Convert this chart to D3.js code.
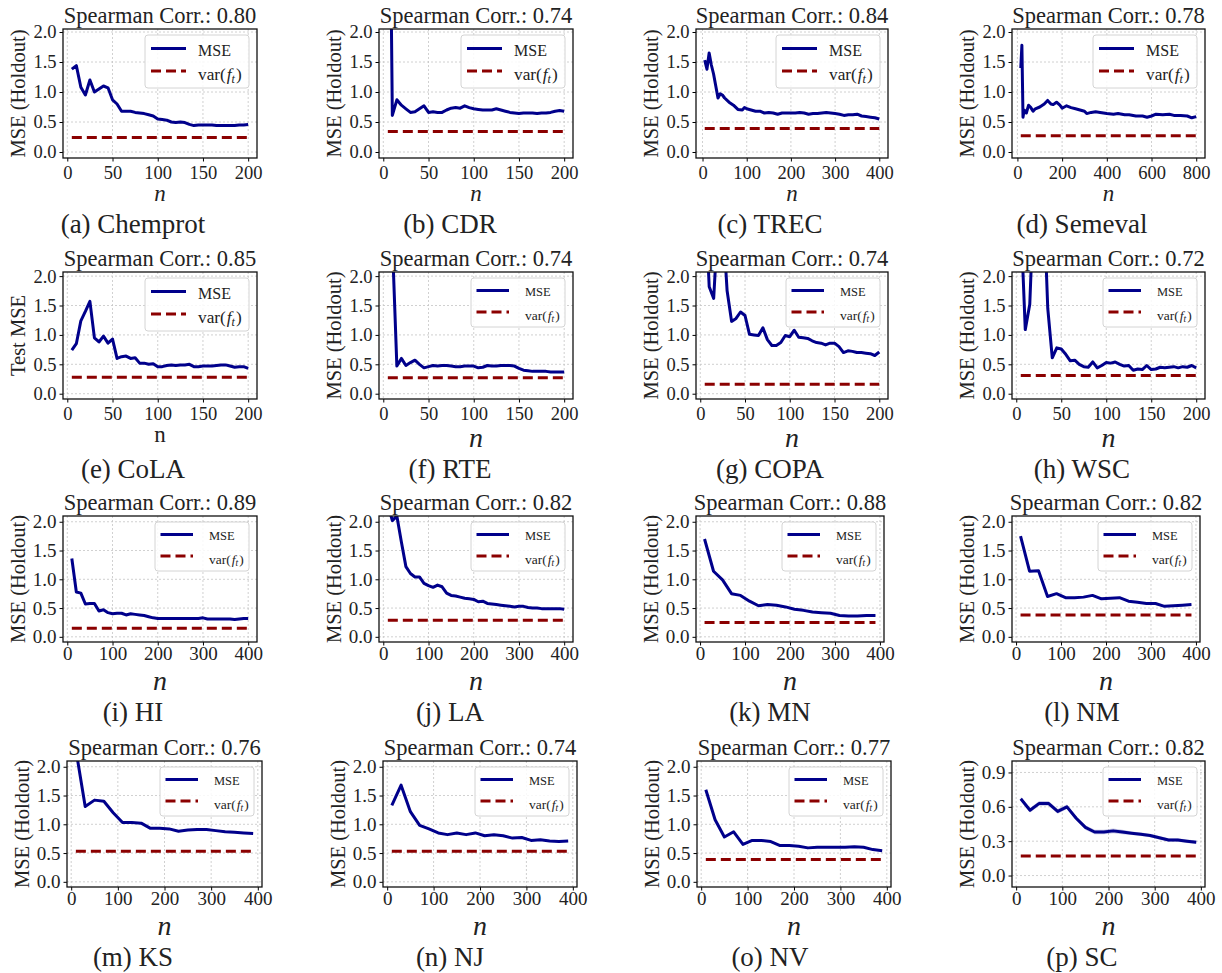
<!DOCTYPE html>
<html>
<head>
<meta charset="utf-8">
<script src="https://cdn.jsdelivr.net/npm/d3@7"></script>
<style>
  body { margin: 0; background: #fff; }
  svg { display: block; font-family: "Liberation Serif", "Times New Roman", serif; }
</style>
</head>
<body>
<script>
// ---- data ----
const datasets = ['Chemprot', 'CDR', 'TREC', 'Semeval', 'CoLA', 'RTE', 'COPA', 'WSC',
  'HI', 'LA', 'MN', 'NM', 'KS', 'NJ', 'NV', 'SC']
const letters = ['a', 'b', 'c', 'd', 'e', 'f', 'g', 'h', 'i', 'j', 'k', 'l', 'm', 'n', 'o', 'p']
const spearman = ['0.80', '0.74', '0.84', '0.78', '0.85', '0.74', '0.74', '0.72',
  '0.89', '0.82', '0.88', '0.82', '0.76', '0.74', '0.77', '0.82']
const varF = [0.24, 0.34, 0.39, 0.27, 0.28, 0.27, 0.16, 0.31,
  0.15, 0.29, 0.25, 0.38, 0.53, 0.53, 0.39, 0.17]

// sample sizes
const n5to200 = [5, 10, 15, 20, 25, 30, 35, 40, 45, 50, 55, 60, 65, 70, 75, 80, 85, 90, 95, 100,
  105, 110, 115, 120, 125, 130, 135, 140, 145, 150, 155, 160, 165, 170, 175, 180, 185, 190, 195, 200]
const n10to400 = [10, 20, 30, 40, 50, 60, 70, 80, 90, 100, 110, 120, 130, 140, 150, 160, 170, 180, 190, 200,
  210, 220, 230, 240, 250, 260, 270, 280, 290, 300, 310, 320, 330, 340, 350, 360, 370, 380, 390, 400]
const n10to390 = [10, 30, 50, 70, 90, 110, 130, 150, 170, 190, 210, 230, 250, 270, 290, 310, 330, 350, 370, 390]
const trecN = [5, 10, 15, 20, 25, 30, 35, 40, 45, 50, 60, 70, 80, 90, 95, 100, 110, 120, 130, 140,
  150, 160, 170, 180, 190, 200, 210, 220, 230, 240, 250, 260, 270, 280, 290, 300, 310, 320, 330, 340,
  350, 360, 370, 380, 390, 400]
const semevalN = [15, 20, 25, 30, 40, 50, 60, 70, 80, 100, 120, 135, 150, 160, 175, 190, 200, 220, 240, 260,
  280, 300, 310, 330, 350, 370, 400, 430, 450, 480, 500, 530, 560, 580, 600, 620, 650, 680, 700, 730,
  760, 780, 800]

// holdout MSE curves
const chemprotMse = [1.38, 1.44, 1.08, 0.95, 1.2, 1.0, 1.05, 1.1, 1.07, 0.87, 0.8, 0.68, 0.68, 0.68, 0.66, 0.65, 0.64, 0.62, 0.6, 0.55,
  0.54, 0.53, 0.5, 0.49, 0.5, 0.49, 0.46, 0.44, 0.45, 0.45, 0.45, 0.45, 0.44, 0.44, 0.44, 0.44, 0.44, 0.45, 0.45, 0.46]
const cdrMse = [8.0, 0.61, 0.87, 0.78, 0.72, 0.66, 0.67, 0.72, 0.77, 0.66, 0.67, 0.66, 0.66, 0.7, 0.73, 0.74, 0.73, 0.77, 0.74, 0.72,
  0.71, 0.7, 0.7, 0.7, 0.72, 0.7, 0.68, 0.66, 0.65, 0.64, 0.65, 0.65, 0.65, 0.64, 0.65, 0.65, 0.66, 0.68, 0.69, 0.68]
const trecMse = [1.53, 1.38, 1.65, 1.45, 1.3, 1.1, 0.9, 0.97, 0.95, 0.9, 0.83, 0.78, 0.71, 0.7, 0.74, 0.72, 0.7, 0.68, 0.68, 0.65,
  0.66, 0.65, 0.63, 0.65, 0.65, 0.65, 0.65, 0.66, 0.65, 0.63, 0.64, 0.64, 0.65, 0.66, 0.65, 0.64, 0.63, 0.61, 0.62, 0.62,
  0.63, 0.6, 0.59, 0.58, 0.57, 0.55]
const semevalMse = [1.4, 1.78, 0.58, 0.7, 0.65, 0.78, 0.74, 0.68, 0.72, 0.75, 0.8, 0.86, 0.8, 0.79, 0.83, 0.78, 0.73, 0.77, 0.74, 0.72,
  0.7, 0.68, 0.64, 0.66, 0.67, 0.66, 0.64, 0.63, 0.64, 0.62, 0.62, 0.6, 0.6, 0.58, 0.6, 0.63, 0.62, 0.63, 0.61, 0.61,
  0.6, 0.57, 0.59]
const colaMse = [0.74, 0.85, 1.24, 1.4, 1.57, 0.95, 0.88, 0.98, 0.86, 0.93, 0.6, 0.63, 0.64, 0.6, 0.61, 0.52, 0.52, 0.5, 0.51, 0.46,
  0.46, 0.48, 0.49, 0.48, 0.49, 0.49, 0.5, 0.46, 0.46, 0.47, 0.47, 0.47, 0.48, 0.49, 0.49, 0.47, 0.45, 0.46, 0.46, 0.43]
const rteMse = [3.0, 2.6, 0.47, 0.6, 0.48, 0.53, 0.57, 0.5, 0.44, 0.46, 0.48, 0.47, 0.48, 0.48, 0.47, 0.46, 0.46, 0.47, 0.47, 0.47,
  0.44, 0.45, 0.48, 0.47, 0.47, 0.48, 0.48, 0.48, 0.47, 0.43, 0.4, 0.39, 0.38, 0.38, 0.38, 0.38, 0.37, 0.37, 0.37, 0.37]
const copaMse = [3.5, 1.82, 1.62, 3.0, 3.0, 1.75, 1.23, 1.28, 1.39, 1.33, 1.01, 1.0, 0.99, 1.12, 0.92, 0.82, 0.82, 0.87, 0.99, 0.97,
  1.08, 0.96, 0.95, 0.94, 0.9, 0.87, 0.86, 0.83, 0.86, 0.86, 0.8, 0.7, 0.73, 0.72, 0.7, 0.7, 0.69, 0.68, 0.65, 0.71]
const wscMse = [3.0, 1.09, 1.52, 3.5, 3.5, 3.5, 1.45, 0.61, 0.78, 0.76, 0.67, 0.56, 0.57, 0.5, 0.46, 0.45, 0.54, 0.44, 0.48, 0.53,
  0.52, 0.54, 0.5, 0.47, 0.48, 0.4, 0.42, 0.41, 0.48, 0.41, 0.42, 0.45, 0.44, 0.45, 0.46, 0.44, 0.46, 0.45, 0.48, 0.44]
const hiMse = [1.36, 0.78, 0.76, 0.57, 0.58, 0.58, 0.45, 0.47, 0.42, 0.4, 0.41, 0.41, 0.38, 0.4, 0.39, 0.38, 0.37, 0.35, 0.33, 0.32,
  0.32, 0.32, 0.32, 0.32, 0.32, 0.32, 0.32, 0.32, 0.32, 0.33, 0.31, 0.31, 0.31, 0.31, 0.31, 0.31, 0.3, 0.31, 0.32, 0.32]
const laMse = [2.3, 2.02, 2.1, 1.65, 1.22, 1.1, 1.04, 1.04, 0.93, 0.89, 0.86, 0.9, 0.87, 0.76, 0.72, 0.71, 0.69, 0.67, 0.66, 0.65,
  0.61, 0.62, 0.58, 0.57, 0.56, 0.55, 0.54, 0.53, 0.52, 0.53, 0.53, 0.51, 0.5, 0.5, 0.49, 0.49, 0.49, 0.49, 0.49, 0.48]
const mnMse = [1.7, 1.14, 0.99, 0.75, 0.72, 0.62, 0.54, 0.56, 0.55, 0.52, 0.48, 0.46, 0.43, 0.42, 0.41, 0.37, 0.36, 0.36, 0.37, 0.37]
const nmMse = [1.75, 1.14, 1.15, 0.7, 0.75, 0.68, 0.68, 0.69, 0.72, 0.66, 0.67, 0.68, 0.62, 0.6, 0.58, 0.58, 0.53, 0.54, 0.55, 0.56]
const ksMse = [2.3, 1.31, 1.42, 1.4, 1.2, 1.03, 1.03, 1.02, 0.93, 0.93, 0.92, 0.88, 0.9, 0.91, 0.91, 0.89, 0.87, 0.86, 0.85, 0.84]
const njMse = [1.33, 1.68, 1.22, 0.98, 0.92, 0.85, 0.82, 0.85, 0.82, 0.85, 0.8, 0.82, 0.8, 0.76, 0.77, 0.72, 0.73, 0.71, 0.7, 0.71]
const nvMse = [1.6, 1.08, 0.78, 0.87, 0.65, 0.72, 0.72, 0.7, 0.63, 0.63, 0.62, 0.59, 0.6, 0.6, 0.6, 0.6, 0.61, 0.6, 0.56, 0.54]
const scMse = [0.67, 0.57, 0.63, 0.63, 0.56, 0.6, 0.5, 0.42, 0.38, 0.38, 0.39, 0.38, 0.37, 0.36, 0.35, 0.33, 0.31, 0.31, 0.3, 0.29]
const scStd = [0.015, 0.02, 0.02, 0.02, 0.02, 0.02, 0.02, 0.02, 0.02, 0.02, 0.02, 0.02, 0.015, 0.015, 0.015, 0.015, 0.015, 0.015, 0.015, 0.015]

// ticks
const ticks200 = [0, 50, 100, 150, 200]
const ticks400 = [0, 100, 200, 300, 400]
const ticks800 = [0, 200, 400, 600, 800]
const ticksMse = [0, 0.5, 1, 1.5, 2]
const ticksSc = [0, 0.3, 0.6, 0.9]

const sampleSizes = [n5to200, n5to200, trecN, semevalN, n5to200, n5to200, n5to200, n5to200,
  n10to400, n10to400, n10to390, n10to390, n10to390, n10to390, n10to390, n10to390]
const mseCurves = [chemprotMse, cdrMse, trecMse, semevalMse, colaMse, rteMse, copaMse, wscMse,
  hiMse, laMse, mnMse, nmMse, ksMse, njMse, nvMse, scMse]
const xTickSets = [ticks200, ticks200, ticks400, ticks800, ticks200, ticks200, ticks200, ticks200,
  ticks400, ticks400, ticks400, ticks400, ticks400, ticks400, ticks400, ticks400]

// ---- layout ----
const width = 1222
const height = 973
const colX = [[63, 257], [379, 573], [696, 888], [1012, 1205]]
const rowY = [[29, 158], [272, 399], [516, 642], [761, 887]]
const rowYDomain = [[-0.1, 2.05], [-0.09, 2.07], [-0.09, 2.1], [-0.09, 2.1]]
const captionX = [133, 450, 770, 1082]
// small per-panel nudges of the axes box
const boxFix = { k: [696, 884], l: [1012, 1200], m: [67, 262], n: [383, 577], o: [697, 891] }

const navy = '#00008b'
const darkred = '#8b0000'
const fontStack = '"Liberation Serif", "Times New Roman", serif'

const svg = d3.select('body').append('svg')
  .attr('width', width)
  .attr('height', height)
  .attr('viewBox', [0, 0, width, height])

svg.append('rect').attr('width', width).attr('height', height).attr('fill', '#fff')

datasets.forEach((name, i) => {
  const row = Math.floor(i / 4)
  const col = i % 4
  const id = letters[i]
  const [left, right] = boxFix[id] || colX[col]
  const [top, bottom] = rowY[row]
  const n = sampleSizes[i]
  const mse = mseCurves[i]
  const isSC = name === 'SC'
  const bigLegend = i < 5

  const ext = d3.extent(n)
  const padX = (ext[1] - ext[0]) * 0.05
  const x = d3.scaleLinear().domain([ext[0] - padX, ext[1] + padX]).range([left, right])
  const y = d3.scaleLinear().domain(isSC ? [-0.1, 1.0] : rowYDomain[row]).range([bottom, top])
  const yTicks = isSC ? ticksSc : ticksMse
  const tickFont = row < 2 ? 18.5 : 19

  const g = svg.append('g').attr('class', `panel-${id}`)

  // grid
  const grid = g.append('g')
    .attr('stroke', '#c4c4c4')
    .attr('stroke-width', 0.8)
    .attr('stroke-dasharray', '2,2')
  grid.selectAll('line.gx').data(xTickSets[i]).join('line')
    .attr('x1', (d) => x(d)).attr('x2', (d) => x(d))
    .attr('y1', top).attr('y2', bottom)
  grid.selectAll('line.gy').data(yTicks).join('line')
    .attr('x1', left).attr('x2', right)
    .attr('y1', (d) => y(d)).attr('y2', (d) => y(d))

  // clip
  g.append('clipPath').attr('id', `clip-${id}`)
    .append('rect').attr('x', left).attr('y', top)
    .attr('width', right - left).attr('height', bottom - top)
  const plot = g.append('g').attr('clip-path', `url(#clip-${id})`)

  // variance line
  plot.append('line')
    .attr('x1', x(ext[0])).attr('x2', x(ext[1]))
    .attr('y1', y(varF[i])).attr('y2', y(varF[i]))
    .attr('stroke', darkred)
    .attr('stroke-width', 3)
    .attr('stroke-dasharray', '10,5')

  const pts = n.map((v, j) => ({ n: v, mse: mse[j], sd: isSC ? scStd[j] : 0.008 }))

  // uncertainty band
  plot.append('path')
    .datum(pts)
    .attr('fill', navy)
    .attr('fill-opacity', isSC ? 0.22 : 0.15)
    .attr('d', d3.area().x((d) => x(d.n)).y0((d) => y(d.mse - d.sd)).y1((d) => y(d.mse + d.sd)))

  plot.append('path')
    .datum(pts)
    .attr('fill', 'none')
    .attr('stroke', navy)
    .attr('stroke-width', 3)
    .attr('stroke-linejoin', 'round')
    .attr('d', d3.line().x((d) => x(d.n)).y((d) => y(d.mse)))

  // axes
  const xAxis = g.append('g')
    .attr('transform', `translate(0,${bottom})`)
    .call(d3.axisBottom(x).tickValues(xTickSets[i]).tickFormat(d3.format('d')).tickSize(3.5).tickPadding(3))
  const yAxis = g.append('g')
    .attr('transform', `translate(${left},0)`)
    .call(d3.axisLeft(y).tickValues(yTicks).tickFormat(d3.format('.1f')).tickSize(3.5).tickPadding(3))
  ;[xAxis, yAxis].forEach((ax) => {
    ax.select('.domain').remove()
    ax.selectAll('line').attr('stroke', '#000').attr('stroke-width', 1)
    ax.selectAll('text')
      .attr('fill', '#222')
      .style('font-family', fontStack)
      .style('font-size', `${tickFont}px`)
  })
  // baseline of the tick numbers below the frame
  xAxis.selectAll('text').attr('dy', row < 2 ? 14 : 11)

  // frame
  g.append('rect')
    .attr('x', left).attr('y', top)
    .attr('width', right - left).attr('height', bottom - top)
    .attr('fill', 'none').attr('stroke', '#111').attr('stroke-width', 1.3)

  // legend
  const lw = bigLegend ? 104 : 94
  const lh = bigLegend ? 53 : 49
  const fs = bigLegend ? 16 : 12.5
  const bx = right - 8 - lw
  const by = top + 6
  const lg = g.append('g').attr('transform', `translate(${bx},${by})`)
  lg.append('rect')
    .attr('width', lw).attr('height', lh).attr('rx', 3)
    .attr('fill', '#fff').attr('fill-opacity', 0.85)
    .attr('stroke', '#d4d4d4').attr('stroke-width', 1)
  const sx0 = bigLegend ? 6 : 5.5
  const sx1 = bigLegend ? 41 : 38
  const tx = bigLegend ? 53 : 54
  const r1 = bigLegend ? 13.5 : 12.5
  const r2 = bigLegend ? 36 : 34
  lg.append('line').attr('x1', sx0).attr('x2', sx1).attr('y1', r1).attr('y2', r1)
    .attr('stroke', navy).attr('stroke-width', 3)
  lg.append('line').attr('x1', sx0).attr('x2', sx1).attr('y1', r2).attr('y2', r2)
    .attr('stroke', darkred).attr('stroke-width', 3).attr('stroke-dasharray', '10,5')
  lg.append('text').attr('x', tx).attr('y', r1 + 1.5)
    .attr('dominant-baseline', 'central')
    .style('font-size', `${fs}px`).attr('fill', '#222').text('MSE')
  const vfs = fs * 1.08
  const vt = lg.append('text').attr('x', tx).attr('y', r2 + 3)
    .attr('dominant-baseline', 'central')
    .style('font-size', `${vfs}px`).attr('fill', '#222')
  vt.append('tspan').text('var(')
  vt.append('tspan').attr('font-style', 'italic').attr('dx', 1).text('f')
  vt.append('tspan').attr('font-style', 'italic').style('font-size', `${vfs * 0.7}px`)
    .attr('dy', vfs * 0.28).text('t')
  vt.append('tspan').attr('dy', -vfs * 0.28).attr('dx', 1).text(')')

  // title
  g.append('text')
    .attr('x', (left + right) / 2).attr('y', top - 6.5)
    .attr('text-anchor', 'middle')
    .style('font-size', '22.5px').attr('fill', '#222')
    .text(`Spearman Corr.: ${spearman[i]}`)

  // y label
  g.append('text')
    .attr('transform', `translate(${left - 45},${(top + bottom) / 2}) rotate(-90)`)
    .attr('text-anchor', 'middle')
    .attr('dominant-baseline', 'central')
    .style('font-size', '20.5px').attr('fill', '#222')
    .text(name === 'CoLA' ? 'Test MSE' : 'MSE (Holdout)')

  // x label
  const small = row === 0 || name === 'CoLA'
  g.append('text')
    .attr('x', (left + right) / 2)
    .attr('y', small ? bottom + 43 : bottom + 47.5)
    .attr('text-anchor', 'middle')
    .attr('font-style', name === 'CoLA' ? 'normal' : 'italic')
    .style('font-size', `${small ? 23 : 28}px`).attr('fill', '#222')
    .text('n')

  // caption
  g.append('text')
    .attr('x', captionX[col])
    .attr('y', row === 0 ? bottom + 75 : bottom + 79)
    .attr('text-anchor', 'middle')
    .style('font-size', '27px').attr('fill', '#222')
    .text(`(${id}) ${name}`)
})
</script>
</body>
</html>
